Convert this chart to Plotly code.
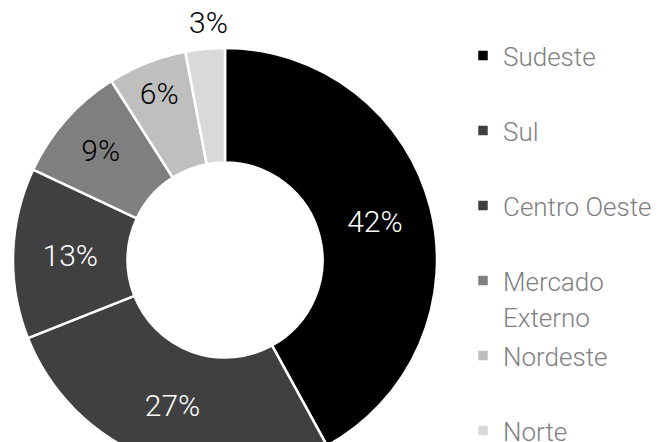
import math
import plotly.graph_objects as go

# Share of sales by region
regions = ["Sudeste", "Sul", "Centro Oeste", "Mercado Externo", "Nordeste", "Norte"]
legend_names = ["Sudeste", "Sul", "Centro Oeste", "Mercado<br>Externo", "Nordeste", "Norte"]
shares = [42, 27, 13, 9, 6, 3]
colors = ["#000000", "#404040", "#404040", "#7f7f7f", "#bfbfbf", "#d9d9d9"]
text_colors = ["#ffffff", "#ffffff", "#ffffff", "#000000", "#000000", "#000000"]

W, H = 657, 520
LEGEND_TEXT_SIZE = 26
LABEL_SIZE = 30

# pie box in pixels (left, top, size)
PIE_L, PIE_T, PIE_S = 13, 48, 424
dom_x = [PIE_L / W, (PIE_L + PIE_S) / W]
dom_y = [1 - (PIE_T + PIE_S) / H, 1 - PIE_T / H]


# every legend entry takes two lines so the items are evenly spaced
def legend_label(label, lines=2):
    n = label.count("<br>") + 1
    body = label + "<br> " * (lines - n)
    return f"<span style='font-size:{LEGEND_TEXT_SIZE}px'>{body}</span>"


# the smallest slice gets its label just outside the ring, centred over it
small = len(shares) - 1
templates = ["%{value}%"] * len(shares)
templates[small] = ""

fig = go.Figure(
    go.Pie(
        labels=[legend_label(s) for s in legend_names],
        values=shares,
        customdata=regions,
        sort=False,
        direction="clockwise",
        rotation=0,
        hole=0.46,
        marker=dict(colors=colors, line=dict(color="#ffffff", width=2.5)),
        texttemplate=templates,
        textposition="inside",
        insidetextorientation="horizontal",
        textfont=dict(family="Roboto", size=LABEL_SIZE, color=text_colors, weight=300),
        domain=dict(x=dom_x, y=dom_y),
        showlegend=True,
    )
)

# outside label position: mid-angle of the slice, a bit beyond the outer radius
total = sum(shares)
mid = (sum(shares[:small]) + shares[small] / 2) / total * 2 * math.pi
radius = PIE_S / 2
cx = PIE_L + radius
cy = PIE_T + radius
r_lab = radius + 27
lab_x = cx + r_lab * math.sin(mid)
lab_y = cy - r_lab * math.cos(mid)

fig.add_annotation(
    x=lab_x / W,
    y=1 - lab_y / H,
    xref="paper",
    yref="paper",
    xanchor="center",
    yanchor="middle",
    xshift=6,
    text=f"{shares[small]}%",
    showarrow=False,
    font=dict(family="Roboto", size=LABEL_SIZE, color="#000000", weight=300),
)

fig.update_layout(
    width=W,
    height=H,
    margin=dict(l=0, r=0, t=0, b=0),
    paper_bgcolor="#ffffff",
    plot_bgcolor="#ffffff",
    font=dict(family="Roboto", color="#7f7f7f", weight=300),
    legend=dict(
        x=0.705,
        y=1 - 31 / H,
        xanchor="left",
        yanchor="top",
        valign="top",
        maxheight=1,
        font=dict(family="Roboto", size=27.7, color="#7f7f7f", weight=300),
        bgcolor="rgba(0,0,0,0)",
        traceorder="normal",
    ),
)

fig.write_html(
    "out.html",
    post_script="document.documentElement.style.overflow='hidden';document.body.style.overflow='hidden';",
)
